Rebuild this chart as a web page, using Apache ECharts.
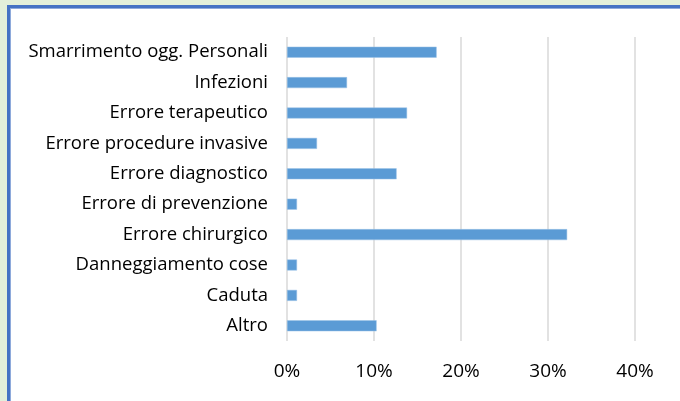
<!DOCTYPE html>
<html lang="it">
<head>
    <meta charset="UTF-8">
    <script src="https://cdn.jsdelivr.net/npm/echarts@6/dist/echarts.min.js"></script>
    <title>Eventi</title>
    <style>
        html, body { margin: 0; padding: 0; background: #e2efda; }
        #box {
            position: absolute; left: 7px; top: 5px; width: 700px; height: 420px;
            background: #fff; border-left: 3px solid #4472c4; border-top: 3px solid #4472c4;
            box-shadow: inset 1px 1px 0 #8eaadb;
        }
        #main { position: absolute; left: 0; top: 0; width: 680px; height: 401px; }
    </style>
</head>
<body>
<div id="box"></div>
<div id="main"></div>
<script type="text/javascript">
    // categorie (dal basso verso l'alto, come nell'asse)
    var categorie = ['Altro', 'Caduta', 'Danneggiamento cose', 'Errore chirurgico', 'Errore di prevenzione',
        'Errore diagnostico', 'Errore procedure invasive', 'Errore terapeutico', 'Infezioni', 'Smarrimento ogg. Personali'];
    // percentuali
    var valori = [10.3, 1.15, 1.15, 32.2, 1.15, 12.6, 3.45, 13.8, 6.9, 17.2];
    var tickLabels = ['0%', '10%', '20%', '30%', '40%'];

    var myChart = echarts.init(document.getElementById('main'));

    var option = {
        animation: false,
        textStyle: { fontFamily: 'Open Sans', color: '#000' },
        grid: { left: 287, right: 45, top: 37, bottom: 60 },
        xAxis: {
            type: 'value',
            min: 0,
            max: 40,
            interval: 10,
            axisLine: { show: false },
            axisTick: { show: false },
            axisLabel: {
                color: '#000', fontSize: 19, margin: 21, fontFamily: 'Open Sans',
                formatter: function (v) { return tickLabels[Math.round(v / 10)]; }
            },
            splitLine: { lineStyle: { color: '#d9d9d9', width: 1.5 } }
        },
        yAxis: {
            type: 'category',
            data: categorie,
            axisLine: { show: false },
            axisTick: { show: false },
            axisLabel: { color: '#000', fontSize: 18.5, margin: 19, fontFamily: 'Open Sans' }
        },
        series: [
            {
                type: 'bar',
                data: valori,
                barWidth: 11,
                itemStyle: { color: '#5b9bd5', borderColor: '#9dc3e6', borderWidth: 0.5 }
            }
        ]
    };

    myChart.setOption(option);
</script>
</body>
</html>
